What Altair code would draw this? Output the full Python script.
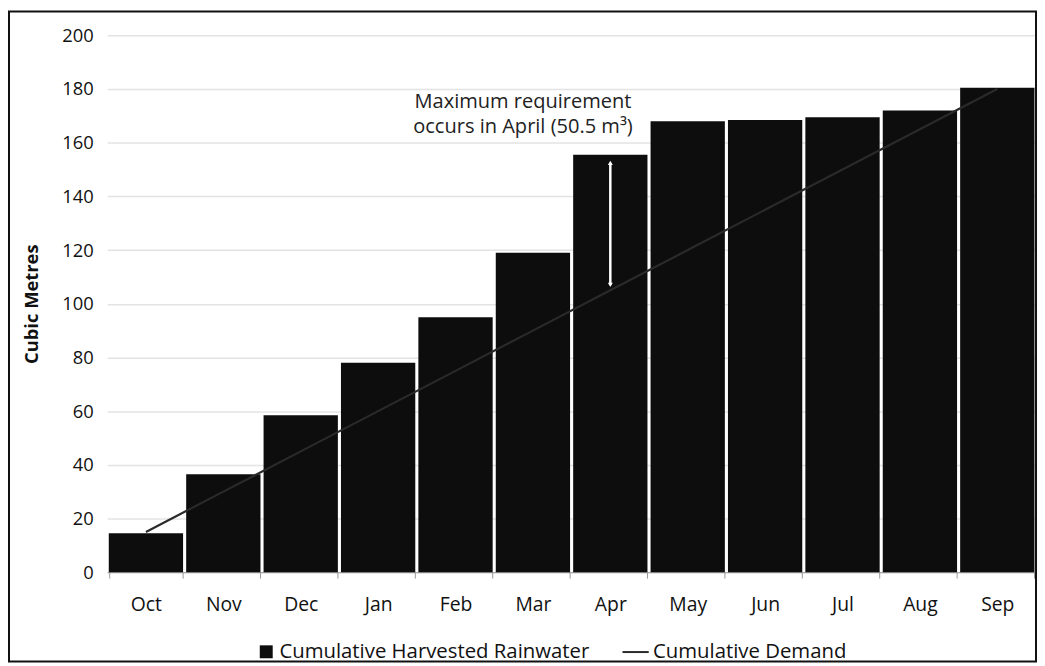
import altair as alt
import pandas as pd

months = ["Oct", "Nov", "Dec", "Jan", "Feb", "Mar", "Apr", "May", "Jun", "Jul", "Aug", "Sep"]
harvested = [14.5, 36.5, 58.5, 78, 95, 119, 155.5, 168, 168.5, 169.5, 172, 180.5]
demand = [15, 30, 45, 60, 75, 90, 105, 120, 135, 150, 165, 180]

series_names = ["Cumulative Harvested Rainwater", "Cumulative Demand"]
annot_month = "Apr"
annot_top = 152.5
annot_bottom = 107
annot_text = ["Maximum requirement", "occurs in April (50.5 m³)"]
annot_text_y = 175.3

W, H = 936, 541
FONT = "Open Sans"

bars_df = pd.DataFrame({"month": months, "value": harvested, "series": series_names[0]})
line_df = pd.DataFrame({"month": months, "value": demand, "series": series_names[1]})
arrow_df = pd.DataFrame({"month": [annot_month], "top": [annot_top], "bottom": [annot_bottom]})
text_df = pd.DataFrame({"month": [annot_month], "y": [annot_text_y], "label": [annot_text]})

xenc = alt.X("month:N", sort=months, title=None,
             scale=alt.Scale(paddingInner=0.04, paddingOuter=0.02),
             axis=alt.Axis(labelAngle=0, tickBand="extent", tickColor="#999", domainColor="#999",
                           tickSize=6, labelPadding=18, labelFontSize=19.5, labelColor="#111",
                           labelFont=FONT, grid=False))
yscale = alt.Scale(domain=[0, 200])

legend_common = dict(title=None, orient="none", direction="horizontal", labelLimit=500,
                     labelFontSize=20.5, labelFont=FONT, labelColor="#111", labelOffset=3)

bars = alt.Chart(bars_df).mark_bar().encode(
    x=xenc,
    y=alt.Y("value:Q", scale=yscale, title="Cubic Metres",
            axis=alt.Axis(values=list(range(0, 201, 20)), domain=False, ticks=False,
                          labelPadding=14, labelFontSize=18.5, labelColor="#111", labelFont=FONT,
                          titleFont=FONT, titleFontSize=18.5, titleFontWeight="bold", titleColor="#111",
                          titlePadding=21, gridColor="#e3e3e3", gridWidth=1.5)),
    fill=alt.Fill("series:N", scale=alt.Scale(domain=[series_names[0]], range=["#0d0d0d"]),
                  legend=alt.Legend(symbolType="square", symbolSize=170, legendX=150, legendY=611,
                                    **legend_common)),
)

line = alt.Chart(line_df).mark_line(strokeWidth=2.2).encode(
    x=alt.X("month:N", sort=months),
    y=alt.Y("value:Q", scale=yscale),
    stroke=alt.Stroke("series:N", scale=alt.Scale(domain=[series_names[1]], range=["#2a2a2a"]),
                      legend=alt.Legend(symbolType="stroke", symbolSize=700, symbolStrokeWidth=2,
                                        legendX=518, legendY=607, **legend_common)),
)

arrow = alt.Chart(arrow_df).mark_rule(color="white", strokeWidth=2.5).encode(
    x=alt.X("month:N", sort=months), y=alt.Y("top:Q", scale=yscale), y2="bottom:Q"
)
arrow_top = alt.Chart(arrow_df).mark_point(shape="triangle-up", filled=True, color="white", size=25, opacity=1).encode(
    x=alt.X("month:N", sort=months), y=alt.Y("top:Q", scale=yscale)
)
arrow_bot = alt.Chart(arrow_df).mark_point(shape="triangle-down", filled=True, color="white", size=25, opacity=1).encode(
    x=alt.X("month:N", sort=months), y=alt.Y("bottom:Q", scale=yscale)
)

text = alt.Chart(text_df).mark_text(font=FONT, fontSize=20.2, color="#222", align="center",
                                    baseline="middle", dx=-88, lineHeight=26).encode(
    x=alt.X("month:N", sort=months), y=alt.Y("y:Q", scale=yscale), text="label"
)

frame = alt.Chart(arrow_df).mark_rect(fill=None, stroke="#111", strokeWidth=2).encode(
    x=alt.value(-99), x2=alt.value(W), y=alt.value(-24), y2=alt.value(H + 90)
)

chart = alt.layer(bars, line, arrow, arrow_top, arrow_bot, text, frame).properties(
    width=W, height=H,
    autosize=alt.AutoSizeParams(type="none"),
    padding={"left": 100, "top": 25, "right": 1, "bottom": 92},
).configure(background="white").configure_view(stroke=None)

chart.save("out.html", embed_options={"renderer": "svg", "actions": False})
